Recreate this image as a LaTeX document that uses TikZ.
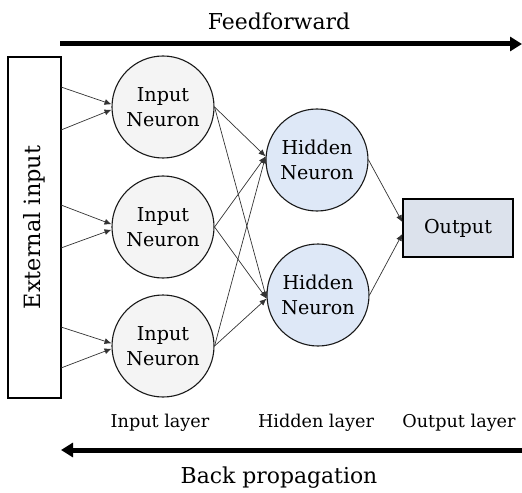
\documentclass[tikz,border=0pt]{standalone}
\usepackage{fontspec}
\setmainfont{DejaVu Serif}
\usetikzlibrary{arrows.meta}
\definecolor{inputfill}{HTML}{F4F4F4}
\definecolor{hiddenfill}{HTML}{DEE8F7}
\definecolor{outfill}{HTML}{DCE2EC}
\definecolor{linkgray}{HTML}{333333}
\begin{document}
\begin{tikzpicture}[x=1bp,y=-1bp,
  neuron/.style={circle, draw=black!90, line width=1.1bp, minimum size=102bp,
    inner sep=0pt, align=center, font=\fontsize{19.2}{25}\selectfont},
  inneuron/.style={neuron, fill=inputfill},
  hidneuron/.style={neuron, fill=hiddenfill},
  link/.style={draw=linkgray, line width=0.7bp, -{Latex[length=7bp,width=6bp]}},
  bigarrow/.style={line width=5bp, -{Triangle[length=12bp,width=14bp]}},
  caption/.style={font=\fontsize{22}{26}\selectfont, inner sep=0pt},
  layerlabel/.style={font=\fontsize{17.7}{21}\selectfont, inner sep=0pt}
]
\useasboundingbox (0,0) rectangle (522,493);

% direction arrows and their titles
\node[caption, anchor=base] (fftext) at (279,30) {Feedforward};
\coordinate (ffL) at (60,44);
\coordinate (ffR) at (522,44);
\draw[bigarrow] (ffL) -- (ffR);

\coordinate (bpR) at (522,450);
\coordinate (bpL) at (61,450);
\draw[bigarrow] (bpR) -- (bpL);
\node[caption, anchor=base] (bptext) at (279,483) {Back propagation};

% external input box
\node[draw, line width=1.2bp, rotate=90, minimum width=341bp, minimum height=53bp,
  inner sep=0pt, font=\fontsize{22.5}{26}\selectfont] (ext) at (34.5,227.5) {External input};

% neurons
\node[inneuron] (in1) at (163,107) {Input\\Neuron};
\node[inneuron] (in2) at (163,227) {Input\\Neuron};
\node[inneuron] (in3) at (163,346) {Input\\Neuron};
\node[hidneuron] (hid1) at (317,160) {Hidden\\Neuron};
\node[hidneuron] (hid2) at (318,295) {Hidden\\Neuron};
\node[draw, line width=1.2bp, fill=outfill, minimum width=110bp, minimum height=58bp,
  inner sep=0pt, font=\fontsize{19.2}{22}\selectfont] (out) at (458,228) {Output};

% layer labels
\node[layerlabel, anchor=base] (lin) at (160,427) {Input layer};
\node[layerlabel, anchor=base] (lhid) at (316,427) {Hidden layer};
\node[layerlabel, anchor=base] (lout) at (459,427) {Output layer};

% external input to input neurons
\coordinate (e1a) at (61,87);
\coordinate (e1b) at (61,130);
\coordinate (e2a) at (61,205);
\coordinate (e2b) at (61,248);
\coordinate (e3a) at (61,327);
\coordinate (e3b) at (61,368);
\draw[link] (e1a) -- (in1.177);
\draw[link] (e1b) -- (in1.183);
\draw[link] (e2a) -- (in2.177);
\draw[link] (e2b) -- (in2.183);
\draw[link] (e3a) -- (in3.177);
\draw[link] (e3b) -- (in3.183);

% input layer to hidden layer
\foreach \i in {in1,in2,in3}{
  \draw[link] (\i.east) -- (hid1.176);
  \draw[link] (\i.east) -- (hid2.184);
}

% hidden layer to output
\draw[link] (hid1.east) -- (out.174);
\draw[link] (hid2.east) -- (out.186);
\end{tikzpicture}
\end{document}
